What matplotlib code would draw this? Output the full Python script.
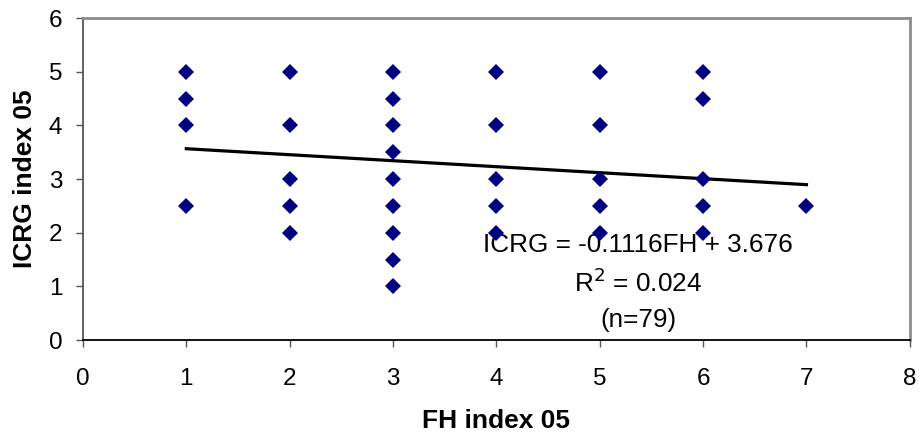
import numpy as np
import matplotlib
matplotlib.use('Agg')
import matplotlib.pyplot as plt

plt.rcParams['font.family'] = ['Liberation Sans', 'DejaVu Sans']

# FH index 05 vs ICRG index 05 (distinct points visible in the chart)
fh = [1, 1, 1, 1,
      2, 2, 2, 2, 2,
      3, 3, 3, 3, 3, 3, 3, 3, 3,
      4, 4, 4, 4, 4,
      5, 5, 5, 5, 5,
      6, 6, 6, 6, 6,
      7]
icrg = [5, 4.5, 4, 2.5,
        5, 4, 3, 2.5, 2,
        5, 4.5, 4, 3.5, 3, 2.5, 2, 1.5, 1,
        5, 4, 3, 2.5, 2,
        5, 4, 3, 2.5, 2,
        5, 4.5, 3, 2.5, 2,
        2.5]

# trend line reported on the chart
slope = -0.1116
intercept = 3.676
r2 = 0.024
n_obs = 79

fig = plt.figure(figsize=(9.19, 4.38), dpi=100)
ax = fig.add_axes([0.0903, 0.2237, 0.8997, 0.7352])

line_x = np.array([min(fh), max(fh)])
ax.plot(line_x, slope * line_x + intercept, color='black', lw=2.3, zorder=2)

ax.text(5.37, 1.77, f'ICRG = {slope}FH + {intercept}', ha='center', va='center',
        fontsize=18.8, zorder=1)
ax.text(5.37, 1.06, f'R$^{{2}}$ = {r2}', ha='center', va='center', fontsize=18.8, zorder=1)
ax.text(5.37, 0.37, f'(n={n_obs})', ha='center', va='center', fontsize=18.8, zorder=1)

ax.plot(fh, icrg, linestyle='none', marker='D', markersize=8.5,
        color='#000080', markeredgewidth=0, zorder=3)

ax.set_xlim(0, 8)
ax.set_ylim(0, 6)
ax.set_xticks(range(0, 9))
ax.set_yticks(range(0, 7))
ax.tick_params(direction='out', length=5, width=1, colors='#555555',
               labelcolor='black', labelsize=17.5)
ax.tick_params(axis='x', pad=15)
ax.tick_params(axis='y', pad=10)

ax.spines['bottom'].set_color('black')
ax.spines['bottom'].set_linewidth(1.3)
ax.spines['left'].set_color('#555555')
ax.spines['left'].set_linewidth(1.3)
for s in ['top', 'right']:
    ax.spines[s].set_color('#8c8c8c')
    ax.spines[s].set_linewidth(2)

ax.set_xlabel('FH index 05', fontsize=19, fontweight='bold', labelpad=14)
ax.set_ylabel('ICRG index 05', fontsize=19, fontweight='bold', labelpad=8)

fig.savefig('out.png', dpi=100)
